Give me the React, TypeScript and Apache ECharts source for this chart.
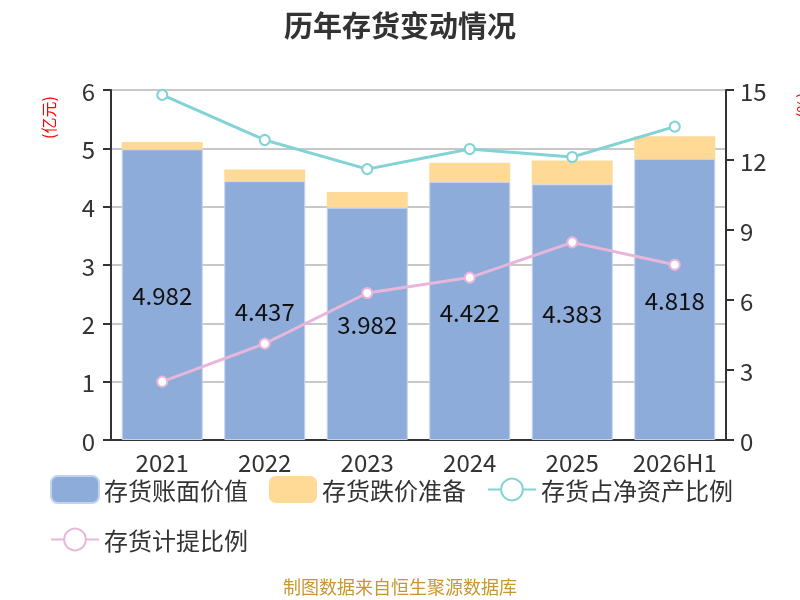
import React from "react";
import * as echarts from "echarts";

const years = ["2021", "2022", "2023", "2024", "2025", "2026H1"];
const bookValue = [4.982, 4.437, 3.982, 4.422, 4.383, 4.818];
const impairment = [0.127, 0.2, 0.27, 0.33, 0.41, 0.39];
const netAssetRatio = [14.79, 12.86, 11.61, 12.47, 12.13, 13.43];
const provisionRatio = [2.5, 4.13, 6.3, 6.96, 8.47, 7.51];

const FONT = "'Noto Sans CJK SC', 'Noto Sans', sans-serif";

export default function App() {
  const ref = React.useRef<HTMLDivElement>(null);

  React.useEffect(() => {
    if (!ref.current) return;
    const chart = echarts.init(ref.current, null, { renderer: "svg" });

    chart.setOption({
      animation: false,
      textStyle: { fontFamily: FONT },
      title: {
        text: "历年存货变动情况",
        left: "center",
        top: 4,
        textStyle: { fontSize: 29, fontWeight: "bold", color: "#333", fontFamily: FONT },
      },
      legend: {
        left: 50,
        top: 475,
        right: 30,
        padding: 0,
        itemWidth: 48,
        itemHeight: 27,
        itemGap: 21,
        itemTextGap: 10,
        textStyle: { fontSize: 24, color: "#333", fontFamily: FONT, lineHeight: 27 },
        data: [
          { name: "存货账面价值", icon: "roundRect" },
          { name: "存货跌价准备", icon: "roundRect" },
          "存货占净资产比例",
          "存货计提比例",
        ],
      },
      grid: { left: 111, right: 74, top: 90, bottom: 160 },
      xAxis: {
        type: "category",
        data: years,
        axisLine: { lineStyle: { color: "#333", width: 2 } },
        axisTick: { length: 8, lineStyle: { color: "#333", width: 2 } },
        axisLabel: { fontSize: 24, color: "#333", margin: 9, interval: 0 },
      },
      yAxis: [
        {
          type: "value",
          min: 0,
          max: 6,
          interval: 1,
          axisLine: { show: true, lineStyle: { color: "#333", width: 2 } },
          axisTick: { show: true, length: 8, lineStyle: { color: "#333", width: 2 } },
          axisLabel: { fontSize: 24, color: "#333", margin: 16 },
          splitLine: { lineStyle: { color: "#c8c8c8", width: 2 } },
        },
        {
          type: "value",
          min: 0,
          max: 15,
          interval: 3,
          axisLine: { show: true, lineStyle: { color: "#333", width: 2 } },
          axisTick: { show: true, length: 8, lineStyle: { color: "#333", width: 2 } },
          axisLabel: { fontSize: 24, color: "#333", margin: 14 },
          splitLine: { show: false },
        },
      ],
      graphic: [
        {
          type: "text",
          x: 40,
          y: 139,
          rotation: Math.PI / 2,
          style: { text: "(亿元)", fontSize: 16, fill: "#ff0000", fontFamily: FONT },
        },
        {
          type: "text",
          x: 794,
          y: 118,
          rotation: Math.PI / 2,
          style: { text: "(%)", fontSize: 16, fill: "#ff0000", fontFamily: FONT },
        },
        {
          type: "text",
          left: "center",
          top: 577,
          style: { text: "制图数据来自恒生聚源数据库", fontSize: 18, fill: "#c8962e", fontFamily: FONT },
        },
      ],
      series: [
        {
          name: "存货账面价值",
          type: "bar",
          stack: "inv",
          barWidth: "79%",
          data: bookValue,
          itemStyle: { color: "#8eacd9", borderColor: "#c2d3ee", borderWidth: 1 },
          label: { show: true, position: "inside", fontSize: 24, color: "#111", fontFamily: FONT },
        },
        {
          name: "存货跌价准备",
          type: "bar",
          stack: "inv",
          data: impairment,
          itemStyle: { color: "#ffd996" },
        },
        {
          name: "存货占净资产比例",
          type: "line",
          yAxisIndex: 1,
          data: netAssetRatio,
          symbol: "emptyCircle",
          symbolSize: 10,
          lineStyle: { color: "#82d3d6", width: 3 },
          itemStyle: { color: "#82d3d6", borderWidth: 2 },
        },
        {
          name: "存货计提比例",
          type: "line",
          yAxisIndex: 1,
          data: provisionRatio,
          symbol: "emptyCircle",
          symbolSize: 10,
          lineStyle: { color: "#e8b6da", width: 3 },
          itemStyle: { color: "#e8b6da", borderWidth: 2 },
        },
      ],
    });

    return () => chart.dispose();
  }, []);

  return <div ref={ref} style={{ position: "fixed", left: 0, top: 0, width: 800, height: 600 }} />;
}
